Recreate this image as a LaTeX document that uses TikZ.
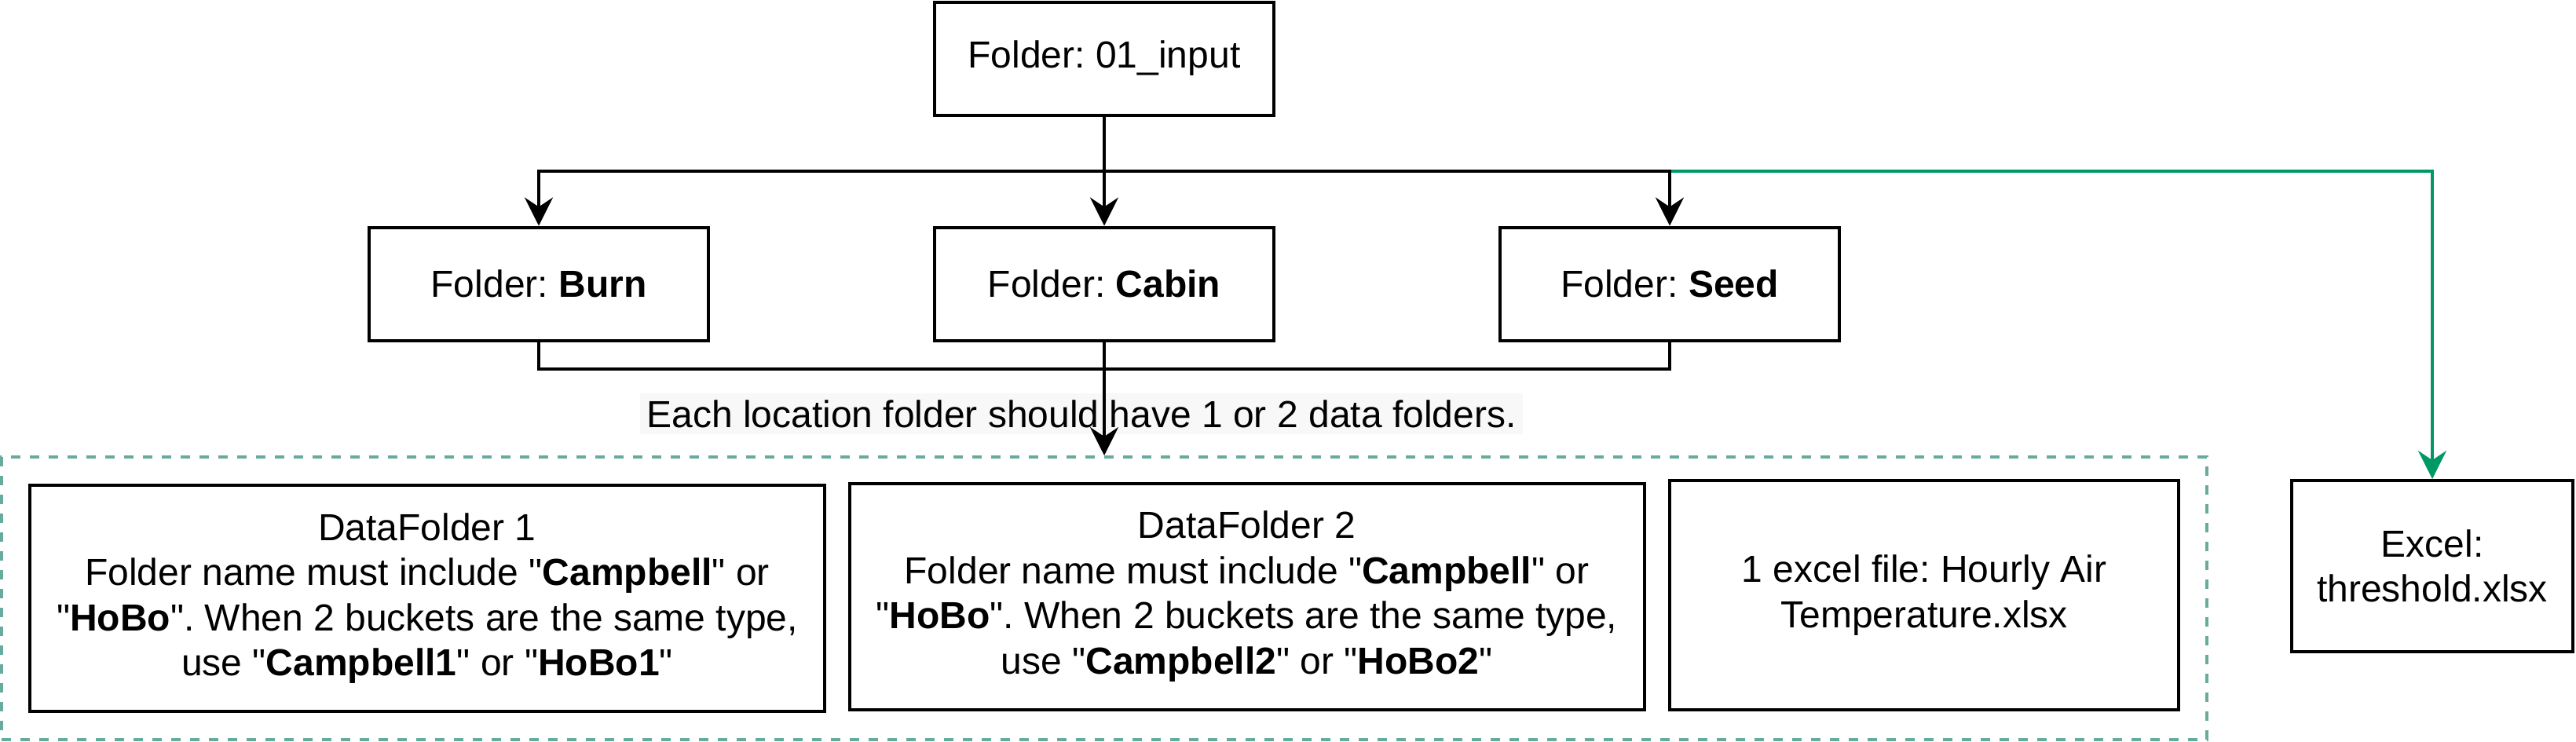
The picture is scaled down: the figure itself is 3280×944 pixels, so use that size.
\documentclass[tikz,border=0pt]{standalone}
\usepackage{fontspec}
\setmainfont{Liberation Sans}[Ligatures=TeXOff]
\usetikzlibrary{arrows.meta}

\definecolor{dashgreen}{HTML}{67AB9F}
\definecolor{linkgreen}{HTML}{009966}
\definecolor{labelgray}{HTML}{F8F8F8}

\begin{document}
\frenchspacing
\begin{tikzpicture}[x=0.25pt, y=-0.25pt, font=\fontsize{12pt}{14.4pt}\selectfont,
    box/.style={draw=black, line width=1pt, align=center, inner sep=0pt},
    databox/.style={draw=dashgreen, line width=1pt, dash pattern=on 3pt off 3pt, inner sep=0pt},
    arr/.style={draw=black, line width=0.9pt, -{Stealth[length=9pt, width=9pt, inset=3pt]}},
    link/.style={draw=black, line width=0.9pt}] %folders
    \useasboundingbox (0,0) rectangle (3280,944);

    \node[box, minimum width=108pt, minimum height=36pt] (input) at (1406,74.5) {Folder: 01\_input};
    \node[box, minimum width=108pt, minimum height=36pt] (burn) at (686,361.5) {Folder: \textbf{Burn}};
    \node[box, minimum width=108pt, minimum height=36pt] (cabin) at (1406,361.5) {Folder: \textbf{Cabin}};
    \node[box, minimum width=108pt, minimum height=36pt] (seed) at (2126,361.5) {Folder: \textbf{Seed}};

    \node[databox, minimum width=702pt, minimum height=90pt] (data) at (1406,762) {};
    \node[box, minimum width=253pt, minimum height=72pt] (df1) at (544,762)
        {DataFolder 1\\Folder name must include "\textbf{Campbell}" or\\"\textbf{HoBo}". When 2 buckets are the same type,\\use "\textbf{Campbell1}" or "\textbf{HoBo1}"};
    \node[box, minimum width=253pt, minimum height=72pt] (df2) at (1587.5,759.5)
        {DataFolder 2\\Folder name must include "\textbf{Campbell}" or\\"\textbf{HoBo}". When 2 buckets are the same type,\\use "\textbf{Campbell2}" or "\textbf{HoBo2}"};
    \node[box, minimum width=162pt, minimum height=73pt] (temp) at (2450,758)
        {1 excel file: Hourly Air\\Temperature.xlsx};
    \node[box, minimum width=89.5pt, minimum height=54.5pt] (thresh) at (3097,721)
        {Excel:\\threshold.xlsx};

    \coordinate (hub) at (1406,218);
    \coordinate (merge) at (1406,470);

    \draw[arr, draw=linkgreen, -{Stealth[length=9pt, width=9pt, inset=3pt, fill=linkgreen]}] (seed.north |- hub) -| (thresh.north);
    \draw[arr] (input.south) -- (hub) -| (burn.north);
    \draw[arr] (hub) -- (cabin.north);
    \draw[arr] (hub) -| (seed.north);

    \draw[link] (burn.south) |- (merge);
    \draw[link] (seed.south) |- (merge);
    \node[fill=labelgray, inner sep=2pt] (note) at (1377,527) {Each location folder should have 1 or 2 data folders.};
    \draw[arr] (cabin.south) -- (data.north);
\end{tikzpicture}
\end{document}
